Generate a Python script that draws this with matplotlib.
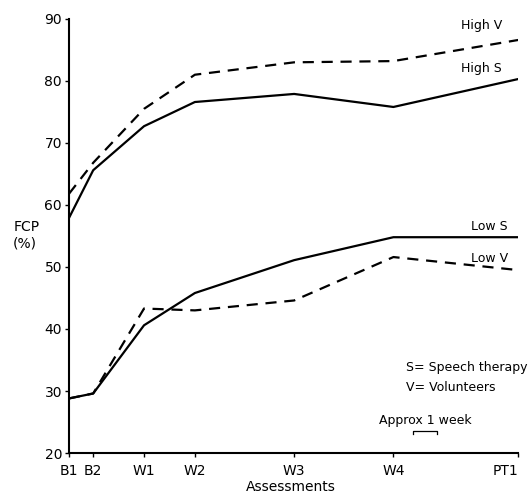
import matplotlib
matplotlib.use('Agg')
import matplotlib.pyplot as plt

# assessment points (x position ~ weeks from B1)
labels = ['B1', 'B2', 'W1', 'W2', 'W3', 'W4', 'PT1']
weeks = [0, 1.0, 3.1, 5.2, 9.3, 13.4, 18.55]

high_s = [57.9, 65.6, 72.7, 76.6, 77.9, 75.8, 80.3]
high_v = [61.8, 66.8, 75.5, 81.0, 83.0, 83.2, 86.6]
low_s = [28.8, 29.6, 40.6, 45.8, 51.1, 54.8, 54.8]
low_v = [28.8, 29.6, 43.3, 43.0, 44.6, 51.6, 49.5]

fig = plt.figure(figsize=(5.29, 4.95), dpi=100)
ax = fig.add_axes([0.1304, 0.0848, 0.849, 0.877])

dash = (0, (5, 3.5))
ax.plot(weeks, high_s, color='black', lw=1.6)
ax.plot(weeks, high_v, color='black', lw=1.6, linestyle=dash)
ax.plot(weeks, low_s, color='black', lw=1.6)
ax.plot(weeks, low_v, color='black', lw=1.6, linestyle=dash)

ax.set_xlim(0, weeks[-1])
ax.set_ylim(20, 90)
ax.set_xticks(weeks)
ax.set_xticklabels(labels)
ax.set_yticks([20, 30, 40, 50, 60, 70, 80, 90])
ax.tick_params(direction='out', length=3, width=1, labelsize=10)
ax.tick_params(axis='x', pad=5)
ax.tick_params(axis='y', pad=2)
# keep the last tick label inside the figure
ax.get_xticklabels()[-1].set_horizontalalignment('right')
ax.get_xticklabels()[-1].set_x(weeks[-1] + 0.35)
for s in ['top', 'right']:
    ax.spines[s].set_visible(False)
for s in ['left', 'bottom']:
    ax.spines[s].set_linewidth(1.5)

ax.text(16.2, 88.3, 'High V', fontsize=9)
ax.text(16.2, 81.5, 'High S', fontsize=9)
ax.text(16.6, 56.0, 'Low S', fontsize=9)
ax.text(16.6, 50.8, 'Low V', fontsize=9)
ax.text(13.9, 33.3, 'S= Speech therapy', fontsize=9)
ax.text(13.9, 30.0, 'V= Volunteers', fontsize=9)
ax.text(12.8, 24.7, 'Approx 1 week', fontsize=9)

# one week bracket
bx = [14.2, 14.2, 15.2, 15.2]
by = [23.0, 23.6, 23.6, 23.0]
ax.plot(bx, by, color='black', lw=0.9)

fig.text(0.025, 0.525, 'FCP\n(%)', fontsize=10, ha='left', va='center', linespacing=1.2)
fig.text(0.55, 0.002, 'Assessments', fontsize=10, ha='center', va='bottom')

fig.savefig('out.png', dpi=100)
